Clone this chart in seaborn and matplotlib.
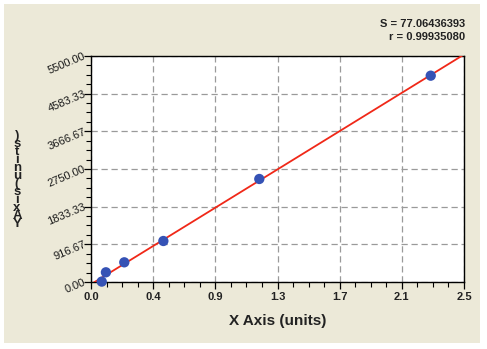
import matplotlib
matplotlib.use("Agg")
import matplotlib.pyplot as plt
from matplotlib.patches import Rectangle
from matplotlib.ticker import FixedLocator, AutoMinorLocator
import numpy as np
import pandas as pd
import seaborn as sns

# Data
x_values = [0.072, 0.10, 0.223, 0.485, 1.128, 2.277]
y_values = [10, 236, 479, 998, 2507, 5021]
x_ticks = [0.0, 2.5 / 6, 2 * 2.5 / 6, 3 * 2.5 / 6, 4 * 2.5 / 6, 5 * 2.5 / 6, 2.5]
x_tick_labels = ["0.0", "0.4", "0.9", "1.3", "1.7", "2.1", "2.5"]
y_ticks = [0, 916.67, 1833.33, 2750.0, 3666.67, 4583.33, 5500.0]
y_tick_labels = ["0.00", "916.67", "1833.33", "2750.00", "3666.67", "4583.33", "5500.00"]
stat_lines = ["S = 77.06436393", "r = 0.99935080"]
x_label = "X Axis (units)"
y_label = "Y Axis (units)"

df = pd.DataFrame({"x": x_values, "y": y_values})

sns.set_theme(style="ticks")
plt.rcParams["font.family"] = ["Liberation Sans", "DejaVu Sans"]

W, H = 487, 349
fig = plt.figure(figsize=(W / 100, H / 100), dpi=100, facecolor="white")
fig.patches.append(Rectangle((4 / W, 1 - 343 / H), 476 / W, 339 / H,
                             transform=fig.transFigure, facecolor="#ECE9D8",
                             edgecolor="none", zorder=-10))
ax = fig.add_axes([91 / W, 1 - 282 / H, (464 - 91) / W, (282 - 56) / H])
ax.set_facecolor("white")
ax.set_xlim(0, 2.5)
ax.set_ylim(0, 5500)

sns.regplot(data=df, x="x", y="y", ax=ax, scatter=False, ci=None,
            truncate=False, line_kws=dict(color="#F02818", lw=1.3, zorder=3))
sns.scatterplot(data=df, x="x", y="y", ax=ax, s=55, color="#3552B5",
                edgecolor="none", zorder=4, clip_on=False)
ax.set_xlim(0, 2.5)
ax.set_ylim(0, 5500)

ax.xaxis.set_major_locator(FixedLocator(x_ticks))
ax.set_xticklabels(x_tick_labels, fontsize=8, fontweight="bold", color="#222222")
ax.xaxis.set_minor_locator(AutoMinorLocator(4))
ax.yaxis.set_major_locator(FixedLocator(y_ticks))
ax.set_yticklabels(y_tick_labels, fontsize=8, color="#1a1a1a",
                   rotation=23, rotation_mode="anchor", ha="right", va="center")
ax.yaxis.set_minor_locator(AutoMinorLocator(4))
ax.tick_params(axis="x", which="major", direction="out", length=5, width=0.9,
               color="black", pad=2)
ax.tick_params(axis="y", which="major", direction="out", length=5, width=0.9,
               color="black", pad=-1)
ax.tick_params(axis="both", which="minor", direction="out", length=3.5, width=0.8,
               color="black")
for s in ax.spines.values():
    s.set_color("black")
    s.set_linewidth(1.0)
    s.set_visible(True)

ax.grid(True, which="major", color="#9A9A9A", linestyle=(0, (5, 3)), lw=0.9)
ax.set_axisbelow(True)

ax.set_xlabel(x_label, fontsize=11, fontweight="bold", color="#222222", labelpad=9)
ax.set_ylabel("")

stacked = "\n".join(reversed(y_label.replace(" ", "")))
fig.text(17 / W, 1 - 180 / H, stacked, fontsize=9.5, fontweight="bold",
         color="#222222", ha="center", va="center", linespacing=0.55)

fig.text(465 / W, 1 - 24 / H, stat_lines[0], fontsize=8, fontweight="bold",
         color="#222222", ha="right", va="center")
fig.text(465 / W, 1 - 37 / H, stat_lines[1], fontsize=8, fontweight="bold",
         color="#222222", ha="right", va="center")

fig.savefig("out.png", dpi=100, facecolor="white")
